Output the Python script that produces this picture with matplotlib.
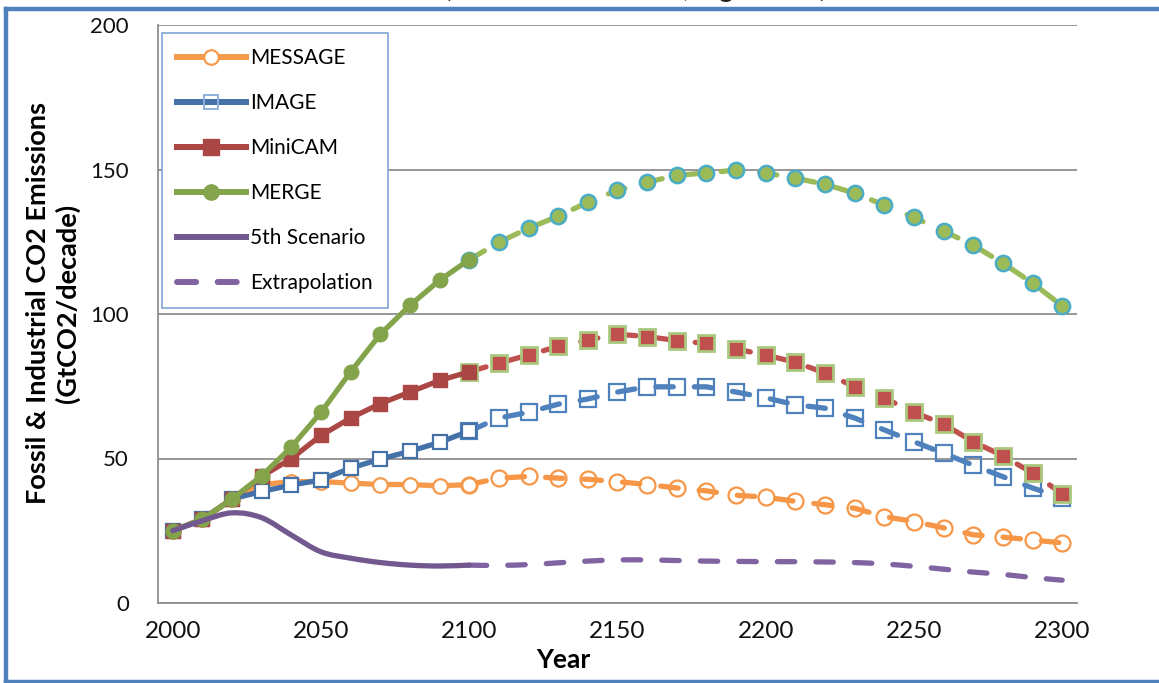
import matplotlib
matplotlib.use('Agg')
import matplotlib.pyplot as plt
import numpy as np
from matplotlib.path import Path
from matplotlib.patches import PathPatch
from matplotlib.lines import Line2D

# ---------------- data ----------------
years_hist = [2000, 2010, 2020, 2030, 2040, 2050, 2060, 2070, 2080, 2090, 2100]
years_ext = [2100, 2110, 2120, 2130, 2140, 2150, 2160, 2170, 2180, 2190, 2200,
             2210, 2220, 2230, 2240, 2250, 2260, 2270, 2280, 2290, 2300]

message_hist = [25, 29, 36, 41, 42, 42, 41.5, 41, 41, 40.5, 41]
message_ext = [41, 43.2, 43.8, 43.2, 42.8, 42, 41, 39.8, 38.8, 37.3, 36.6,
               35.2, 34, 32.8, 29.9, 28.2, 26, 23.6, 22.8, 21.8, 20.8]

image_hist = [25, 29, 36, 38.6, 40.8, 42.6, 46.7, 49.8, 52.5, 55.6, 59.5]
image_ext = [59.5, 64, 66, 68.8, 70.6, 73, 74.8, 74.8, 74.8, 73, 71,
             68.6, 67.4, 64, 59.9, 55.8, 51.8, 47.7, 43.7, 39.8, 36.4]

minicam_hist = [25, 29, 36, 43.8, 50, 58, 64, 69, 73, 77, 80]
minicam_ext = [80, 83, 85.8, 88.8, 91, 93, 92.2, 90.8, 89.8, 87.9, 85.8,
               83.3, 79.6, 74.8, 70.9, 66, 61.9, 55.8, 50.9, 45, 37.8]

merge_hist = [25, 29, 36, 44, 54, 66, 80, 93, 103, 111.7, 118.8]
merge_ext = [118.8, 124.8, 129.7, 133.8, 138.7, 142.8, 145.6, 148, 148.8, 149.8, 148.8,
             147, 144.9, 141.8, 137.7, 133.4, 128.7, 123.8, 117.6, 110.7, 102.8]

fifth_hist = [25, 28.5, 31.2, 29.5, 23.5, 17.7, 15.5, 14, 13.1, 12.8, 13.1]
fifth_ext = [13.1, 13.0, 13.3, 13.9, 14.5, 14.9, 14.9, 14.7, 14.5, 14.4, 14.3,
             14.3, 14.2, 14.0, 13.5, 12.7, 11.7, 10.7, 9.9, 8.8, 7.9]

series_labels = ['MESSAGE', 'IMAGE', 'MiniCAM', 'MERGE', '5th Scenario', 'Extrapolation']
x_ticks = [2000, 2050, 2100, 2150, 2200, 2250, 2300]
y_ticks = [0, 50, 100, 150, 200]

# ---------------- style ----------------
FONT = ['Lato', 'DejaVu Sans']
plt.rcParams['font.family'] = FONT

c_msg, c_msg_e = '#F59A4C', '#F79646'
c_img, c_img_e = '#4472A8', '#4F81BD'
c_mini, c_mini_e = '#AA4643', '#C0504D'
c_merge, c_merge_e = '#84A44C', '#9BBB59'
c_fifth, c_fifth_e = '#71588F', '#8064A2'
edge_mini_e = '#A9C87E'
edge_merge_e = '#4BACC6'

W, H = 1159, 683
fig = plt.figure(figsize=(W / 100, H / 100), dpi=100)
ax = fig.add_axes([158 / W, 1 - 603 / H, (1077 - 158) / W, (603 - 25) / H])

LW = 3.8
DASH = (0, (3.3, 4.0))


def smooth_path(xs, ys):
    pts = np.column_stack([xs, ys]).astype(float)
    n = len(pts)
    verts = [pts[0]]
    codes = [Path.MOVETO]
    for i in range(n - 1):
        p0 = pts[i - 1] if i > 0 else pts[i]
        p1 = pts[i]
        p2 = pts[i + 1]
        p3 = pts[i + 2] if i + 2 < n else pts[i + 1]
        verts += [p1 + (p2 - p0) / 6.0, p2 - (p3 - p1) / 6.0, p2]
        codes += [Path.CURVE4] * 3
    return Path(verts, codes)


# historical (solid) series
ax.plot(years_hist, message_hist, color=c_msg, lw=LW, marker='o', ms=10.5,
        mfc='white', mec=c_msg, mew=1.6, solid_capstyle='round', zorder=3)
ax.plot(years_hist, image_hist, color=c_img, lw=LW, marker='s', ms=9.5,
        mfc='white', mec=c_img, mew=1.6, solid_capstyle='round', zorder=3.1)
ax.plot(years_hist, minicam_hist, color=c_mini, lw=LW, marker='s', ms=10.5,
        mfc=c_mini, mec=c_mini, solid_capstyle='round', zorder=3.2)
ax.plot(years_hist, merge_hist, color=c_merge, lw=LW, marker='o', ms=10.5,
        mfc=c_merge, mec=c_merge, solid_capstyle='round', zorder=3.3)

# extrapolated (dashed) series
ax.plot(years_ext, message_ext, color=c_msg_e, lw=LW, ls=DASH, dash_capstyle='round',
        marker='o', ms=11.5, mfc='none', mec=c_msg_e, mew=1.6, zorder=2.5)
ax.plot(years_ext, image_ext, color=c_img_e, lw=LW, ls=DASH, dash_capstyle='round',
        marker='s', ms=11, mfc='none', mec=c_img_e, mew=1.6, zorder=2.6)
ax.plot(years_ext, minicam_ext, color=c_mini_e, lw=LW, ls=DASH, dash_capstyle='round',
        marker='s', ms=11.5, mfc=c_mini_e, mec=edge_mini_e, mew=2.0, zorder=2.7)
ax.plot(years_ext, merge_ext, color=c_merge_e, lw=LW, ls=DASH, dash_capstyle='round',
        marker='o', ms=11, mfc=c_merge_e, mec=edge_merge_e, mew=1.8, zorder=2.8)

# 5th scenario (smoothed)
ax.add_patch(PathPatch(smooth_path(years_hist, fifth_hist), fill=False,
                       edgecolor=c_fifth, lw=LW, capstyle='round', zorder=4))
ax.add_patch(PathPatch(smooth_path(years_ext, fifth_ext), fill=False,
                       edgecolor=c_fifth_e, lw=LW, linestyle=DASH, capstyle='round',
                       zorder=2.4))

# axes
ax.set_xlim(1995, 2305)
ax.set_ylim(0, 200)
ax.set_xticks(x_ticks)
ax.set_yticks(y_ticks)
ax.set_xticklabels([str(v) for v in x_ticks])
ax.set_yticklabels([str(v) for v in y_ticks])
ax.tick_params(axis='x', length=0, pad=13, labelsize=17.5, labelcolor='#111111')
ax.tick_params(axis='y', length=0, pad=21, labelsize=16, labelcolor='#111111')
ax.yaxis.grid(True, color='#8f8f8f', lw=1.3)
ax.set_axisbelow(True)
for s in ['top', 'right']:
    ax.spines[s].set_visible(False)
for s in ['left', 'bottom']:
    ax.spines[s].set_color('#8f8f8f')
    ax.spines[s].set_linewidth(1.3)

# labels
fig.text(53 / W, 1 - 303 / H, 'Fossil & Industrial CO2 Emissions\n(GtCO2/decade)',
         rotation=90, ha='center', va='center', multialignment='center',
         fontsize=19.5, fontweight='bold', linespacing=1.25)
fig.text(563 / W, 1 - 660 / H, 'Year', ha='center', va='center',
         fontsize=19, fontweight='bold')

# legend
handles = [
    Line2D([], [], color=c_msg, lw=LW + 0.5, marker='o', ms=10.5, mfc='white', mec=c_msg, mew=1.6),
    Line2D([], [], color=c_img, lw=LW + 0.5, marker='s', ms=10, mfc='none', mec='#8EB0DC', mew=1.4),
    Line2D([], [], color=c_mini, lw=LW + 0.5, marker='s', ms=11, mfc=c_mini, mec=c_mini),
    Line2D([], [], color=c_merge, lw=LW + 0.5, marker='o', ms=11, mfc=c_merge, mec=c_merge),
    Line2D([], [], color=c_fifth, lw=LW + 0.5),
    Line2D([], [], color=c_fifth_e, lw=LW + 0.5, ls=(0, (3.2, 3.6)), dash_capstyle='round'),
]
leg = ax.legend(handles, series_labels, loc='upper left',
                bbox_to_anchor=((162 - 158) / 919, (603 - 33) / 578),
                borderaxespad=0, frameon=True, fancybox=False, framealpha=1,
                fontsize=15, handlelength=3.3, handletextpad=0.2,
                labelspacing=1.2, borderpad=0.72)
leg.get_frame().set_edgecolor('#7FA6D8')
leg.get_frame().set_linewidth(1.2)
leg.set_zorder(10)

# outer border of the chart box
bc = '#4F81BD'
fig.add_artist(Line2D([6 / W, 1.0], [1 - 9 / H, 1 - 9 / H], color=bc, lw=3.2))
fig.add_artist(Line2D([6 / W, 6 / W], [1 - 9 / H, 1 - 682 / H], color=bc, lw=3.2))
fig.add_artist(Line2D([6 / W, 1.0], [1 - 682 / H, 1 - 682 / H], color=bc, lw=3.2))

# title line cut off at the top edge (as in the reference)
fig.text(636 / W, 1 + 2.5 / H, '(Scenario Emissions, Figure 3.1)', ha='center',
         va='baseline', fontsize=20, color='#222222')

fig.savefig('out.png', dpi=100)
